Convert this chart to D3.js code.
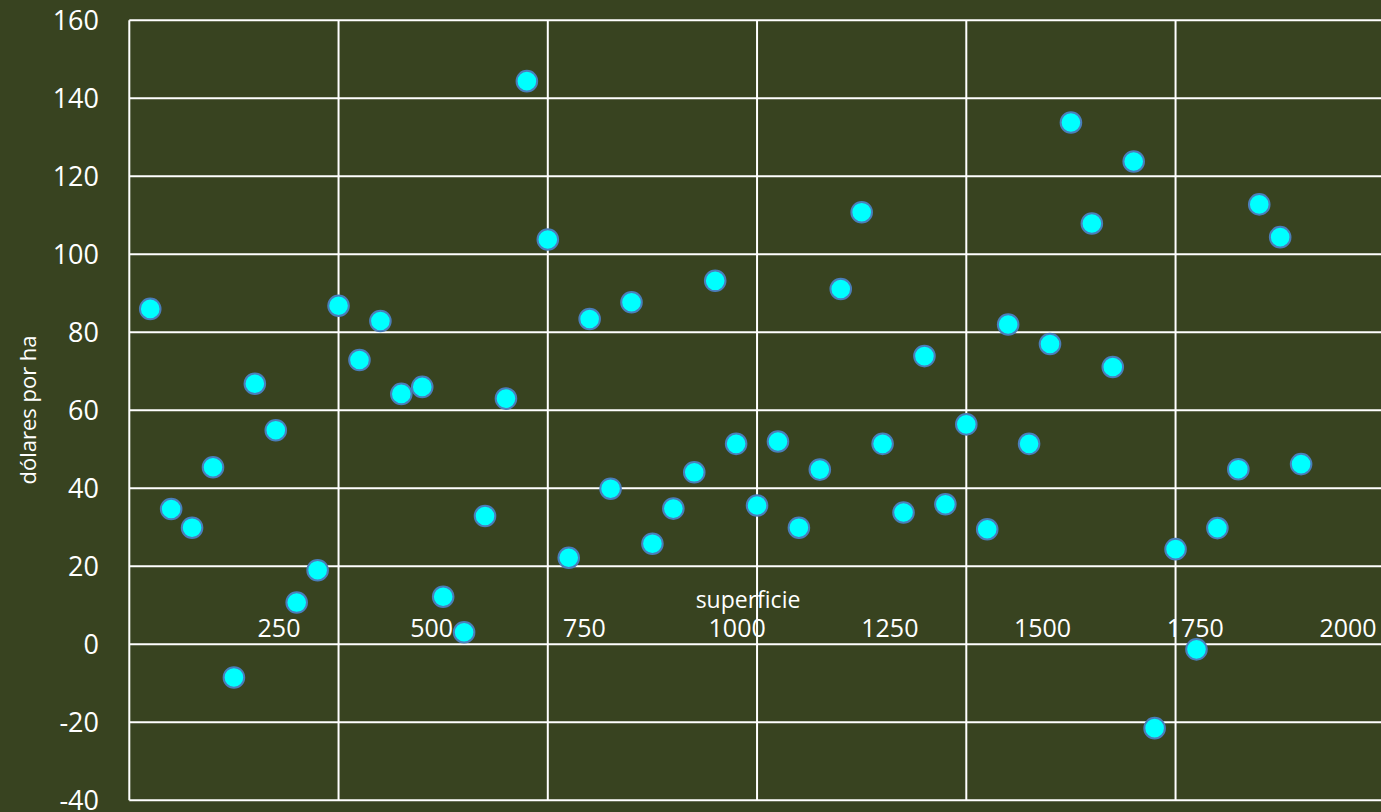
<!DOCTYPE html>
<html>
<head>
<meta charset="utf-8">
<script src="https://cdn.jsdelivr.net/npm/d3@7"></script>
<style>
    html, body {
        margin: 0;
        padding: 0;
        background: #384320;
    }
    text {
        font-family: "Open Sans", "Noto Sans", sans-serif;
        fill: #ffffff;
    }
</style>
</head>
<body>
<div class="chart"></div>
<script>
// dollars per ha, one value per plot (left to right)
let dolaresPorHa = [
    86.0, 34.7, 29.9, 45.4, -8.5, 66.8, 54.9, 10.7, 19.0, 86.8,
    72.9, 82.9, 64.2, 66.0, 12.2, 3.1, 32.9, 63.0, 144.4, 103.8,
    22.2, 83.4, 39.9, 87.7, 25.8, 34.8, 44.1, 93.2, 51.4, 35.6,
    52.0, 29.9, 44.8, 91.1, 110.8, 51.4, 33.8, 73.9, 35.9, 56.4,
    29.5, 82.0, 51.4, 77.0, 133.8, 107.9, 71.1, 123.8, -21.5, 24.4,
    -1.3, 29.8, 44.9, 112.8, 104.4, 46.2
];

let yTicks = [-40, -20, 0, 20, 40, 60, 80, 100, 120, 140, 160];
let xTickLabels = [250, 500, 750, 1000, 1250, 1500, 1750, 2000];
let xGridSlots = [0, 10, 20, 30, 40, 50, 60];

let width = 1381;
let height = 812;

let svg = d3.select('.chart')
    .append('svg')
    .attr('width', width)
    .attr('height', height);

// points sit on evenly spaced slots, vertical grid every 10 slots
let x = d3.scaleLinear().domain([0, 60]).range([129.3, 1384.8]);
let y = d3.scaleLinear().domain([-40, 160]).range([800.3, 20.3]);
// the "superficie" labels follow their own spacing
let xLabel = d3.scaleLinear().domain([0, 2000]).range([126.3, 1348]);

// horizontal grid
svg.append('g')
    .selectAll('line')
    .data(yTicks)
    .join('line')
    .attr('x1', x(0))
    .attr('x2', width)
    .attr('y1', d => y(d))
    .attr('y2', d => y(d))
    .attr('stroke', '#ffffff')
    .attr('stroke-width', 2);

// vertical grid
svg.append('g')
    .selectAll('line')
    .data(xGridSlots.slice(0, -1))
    .join('line')
    .attr('x1', d => x(d))
    .attr('x2', d => x(d))
    .attr('y1', y(160))
    .attr('y2', y(-40))
    .attr('stroke', '#ffffff')
    .attr('stroke-width', 2);

// y tick labels
svg.append('g')
    .selectAll('text')
    .data(yTicks)
    .join('text')
    .attr('x', 99)
    .attr('y', d => y(d))
    .attr('dy', '0.36em')
    .attr('text-anchor', 'end')
    .style('font-size', '27px')
    .text(d => d);

// x tick labels, above the zero line
svg.append('g')
    .selectAll('text')
    .data(xTickLabels)
    .join('text')
    .attr('x', d => xLabel(d))
    .attr('y', 637)
    .attr('text-anchor', 'middle')
    .style('font-size', '25px')
    .text(d => d);

// axis titles
svg.append('text')
    .attr('transform', 'translate(36,410) rotate(-90)')
    .attr('text-anchor', 'middle')
    .style('font-size', '22px')
    .text('dólares por ha');

svg.append('text')
    .attr('x', 748)
    .attr('y', 608)
    .attr('text-anchor', 'middle')
    .style('font-size', '23px')
    .text('superficie');

// points
svg.append('g')
    .selectAll('circle')
    .data(dolaresPorHa)
    .join('circle')
    .attr('cx', (d, i) => x(i + 1))
    .attr('cy', d => y(d))
    .attr('r', 10.3)
    .attr('fill', '#00ffff')
    .attr('stroke', '#4a7ebb')
    .attr('stroke-width', 2);
</script>
</body>
</html>
